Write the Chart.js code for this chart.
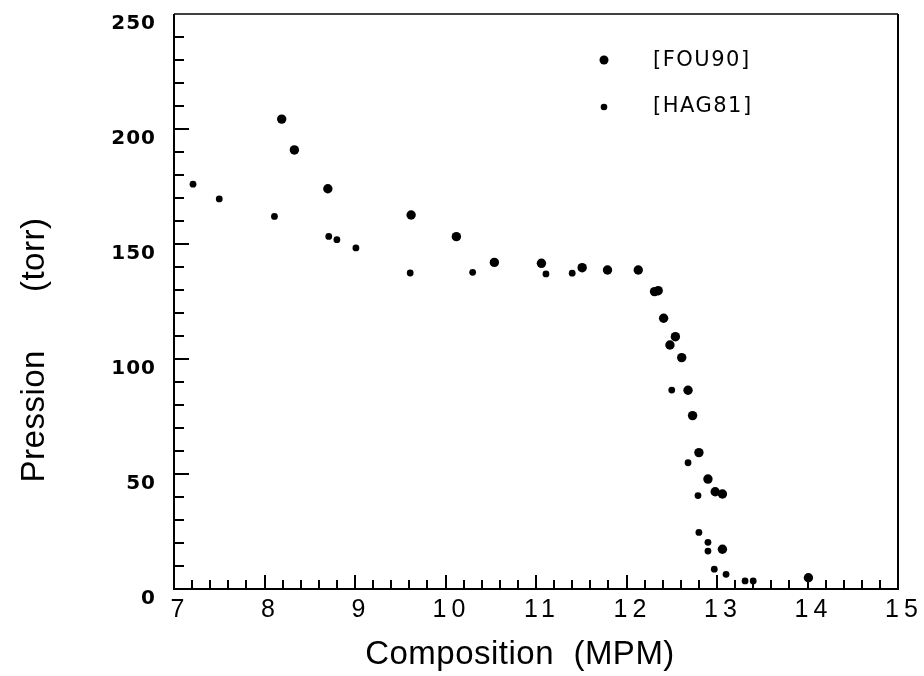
<!DOCTYPE html>
<html>
<head>
<meta charset="utf-8">
<script src="https://cdn.jsdelivr.net/npm/chart.js@4/dist/chart.umd.min.js"></script>
<style>
  html, body { margin: 0; padding: 0; background: #fff; }
  #c { display: block; }
</style>
</head>
<body>
<canvas id="c" width="924" height="676"></canvas>
<script>
// ---- data ----
const fou90X = [8.19, 8.33, 8.70, 9.62, 10.12, 10.54, 11.06, 11.51, 11.79, 12.13, 12.31, 12.35, 12.41, 12.48, 12.54, 12.61, 12.68, 12.73, 12.80, 12.90, 12.98, 13.06, 13.06, 14.01];
const fou90Y = [204.3, 190.9, 174.0, 162.6, 153.2, 142.0, 141.6, 139.7, 138.7, 138.7, 129.3, 129.7, 117.7, 106.1, 109.7, 100.6, 86.4, 75.4, 59.3, 47.8, 42.3, 41.3, 17.3, 4.9];
const hag81X = [7.21, 7.50, 8.11, 8.71, 8.80, 9.01, 9.61, 10.30, 11.11, 11.40, 12.50, 12.68, 12.79, 12.80, 12.90, 12.90, 12.97, 13.10, 13.31, 13.40];
const hag81Y = [176.0, 169.6, 162.0, 153.3, 151.9, 148.3, 137.4, 137.7, 137.0, 137.3, 86.5, 54.9, 40.6, 24.6, 20.3, 16.5, 8.6, 6.4, 3.5, 3.5];
const seriesNames = ['[FOU90]', '[HAG81]'];
const xRange = [7, 15];
const yRange = [0, 250];
const xMajorStep = 1, xMinorStep = 0.2;
const yMajorStep = 50, yMinorStep = 10;
const xTitle = 'Composition  (MPM)';
const yTitle = 'Pression      (torr)';

const toPts = (xs, ys) => xs.map((x, i) => ({ x: x, y: ys[i] }));

const decor = {
  id: 'decor',
  beforeDraw(chart) { chart.ctx.letterSpacing = '1px'; },
  afterDatasetsDraw(chart) { chart.ctx.letterSpacing = '5px'; },
  afterDraw(chart) {
    const ctx = chart.ctx;
    const a = chart.chartArea;
    const xs = chart.scales.x, ys = chart.scales.y;
    ctx.save();
    ctx.letterSpacing = '0px';
    ctx.strokeStyle = '#000';
    ctx.fillStyle = '#000';
    // inward ticks
    ctx.lineWidth = 2;
    ctx.beginPath();
    const nx = Math.round((xRange[1] - xRange[0]) / xMinorStep);
    for (let i = 1; i < nx; i++) {
      const v = xRange[0] + i * xMinorStep;
      const major = i % Math.round(xMajorStep / xMinorStep) === 0;
      const px = Math.round(xs.getPixelForValue(v));
      ctx.moveTo(px, a.bottom);
      ctx.lineTo(px, a.bottom - (major ? 14 : 9));
    }
    const ny = Math.round((yRange[1] - yRange[0]) / yMinorStep);
    for (let i = 1; i < ny; i++) {
      const v = yRange[0] + i * yMinorStep;
      const major = i % Math.round(yMajorStep / yMinorStep) === 0;
      const py = Math.round(ys.getPixelForValue(v));
      ctx.moveTo(a.left, py);
      ctx.lineTo(a.left + (major ? 15 : 10), py);
    }
    ctx.stroke();
    // frame
    ctx.lineWidth = 2;
    ctx.beginPath();
    ctx.moveTo(a.left, a.top);
    ctx.lineTo(a.left, a.bottom);
    ctx.lineTo(a.right, a.bottom);
    ctx.lineTo(a.right, a.top);
    ctx.stroke();
    ctx.lineWidth = 1.5;
    ctx.beginPath();
    ctx.moveTo(a.left, a.top);
    ctx.lineTo(a.right, a.top);
    ctx.stroke();

    // legend (inside plot, top right)
    const lx = a.left + 430, ly1 = a.top + 46, ly2 = a.top + 93;
    ctx.beginPath(); ctx.arc(lx, ly1, 4.5, 0, Math.PI * 2); ctx.fill();
    ctx.beginPath(); ctx.arc(lx, ly2, 3.3, 0, Math.PI * 2); ctx.fill();
    ctx.font = '21px "DejaVu Sans", sans-serif';
    ctx.letterSpacing = '1.5px';
    ctx.textAlign = 'left';
    ctx.textBaseline = 'middle';
    ctx.fillText(seriesNames[0], lx + 49, ly1 + 1);
    ctx.fillText(seriesNames[1], lx + 49, ly2);

    // axis titles
    ctx.font = '33px "Liberation Sans", Arial, sans-serif';
    ctx.letterSpacing = '0.5px';
    ctx.textAlign = 'center';
    ctx.textBaseline = 'alphabetic';
    ctx.fillText(xTitle, 520, 664);
    ctx.save();
    ctx.translate(44, 350);
    ctx.rotate(-Math.PI / 2);
    ctx.fillText(yTitle, 0, 0);
    ctx.restore();
    ctx.restore();
  }
};

new Chart(document.getElementById('c'), {
  type: 'scatter',
  data: {
    datasets: [
      { label: seriesNames[0], data: toPts(fou90X, fou90Y), pointRadius: 4.7, pointBackgroundColor: '#000', pointBorderColor: '#000', pointBorderWidth: 0, showLine: false },
      { label: seriesNames[1], data: toPts(hag81X, hag81Y), pointRadius: 3.4, pointBackgroundColor: '#000', pointBorderColor: '#000', pointBorderWidth: 0, showLine: false }
    ]
  },
  options: {
    responsive: false,
    animation: false,
    events: [],
    layout: { padding: { top: 14, right: 26, left: 0, bottom: 0 } },
    plugins: { legend: { display: false }, tooltip: { enabled: false } },
    scales: {
      x: {
        type: 'linear', position: 'bottom', min: xRange[0], max: xRange[1],
        grid: { display: false, drawTicks: false },
        border: { display: false },
        ticks: {
          stepSize: xMajorStep, autoSkip: false, maxRotation: 0, z: 1,
          color: '#000', padding: 6, labelOffset: 6,
          font: { family: '"Liberation Sans", Arial, sans-serif', size: 25 }
        },
        afterFit(s) { s.height = 87; s.paddingLeft = 0; s.paddingRight = 0; }
      },
      y: {
        type: 'linear', position: 'left', min: yRange[0], max: yRange[1],
        grid: { display: false, drawTicks: false },
        border: { display: false },
        ticks: {
          stepSize: yMajorStep, autoSkip: false,
          color: '#000', padding: 18, labelOffset: 10,
          font: { family: '"DejaVu Sans", sans-serif', size: 20, weight: 'bold' }
        },
        afterFit(s) { s.width = 174; s.paddingTop = 0; s.paddingBottom = 0; }
      }
    }
  },
  plugins: [decor]
});
</script>
</body>
</html>
